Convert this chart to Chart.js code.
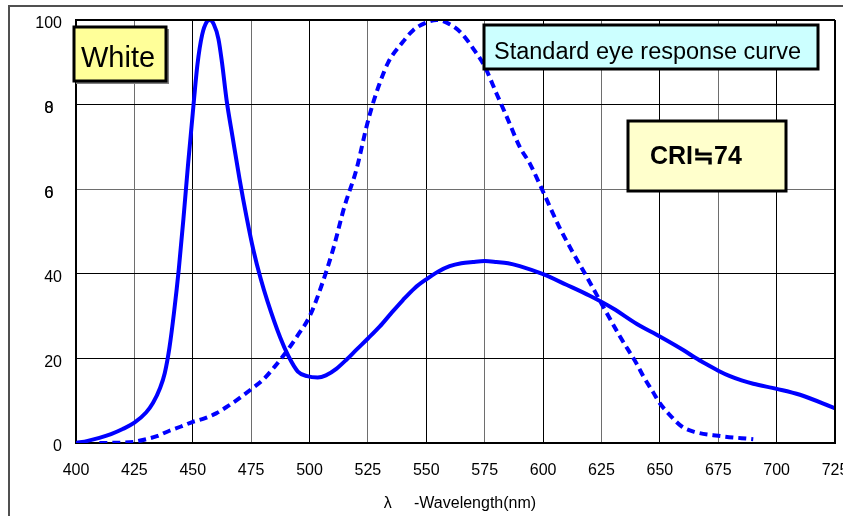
<!DOCTYPE html>
<html><head><meta charset="utf-8">
<script src="https://cdn.jsdelivr.net/npm/chart.js@4/dist/chart.umd.min.js"></script>
<style>html,body{margin:0;padding:0;background:#fff;overflow:hidden}</style>
</head><body>
<canvas id="c" width="843" height="516" style="display:block;width:843px;height:516px"></canvas>
<script>
// ---- data ----
const whiteWavelengths = [400,405,410,415,420,425,430,433,436,438,440,442,444,446,448,450,452,454,456,457.3,459,461,462.5,464.5,467,470,473,476,479,482,487.4,491,495,499,503.5,507,511.6,516,520,525,530,535,540,545,550,555,560,565,570,575,580,585,590,600,610,620,630,640,650,660,665,670,675,680,685,690,700,710,725];
const whiteValues      = [0,0.5,1.2,2.1,3.3,4.8,7.2,9.5,13,16.5,22.5,31,41,53,66,78,89.5,96.5,99.6,100,99,95.5,90,81,72.5,62.5,53.5,45.5,39,33.5,25,20.5,16.9,15.8,15.5,16,17.6,19.8,22,24.7,27.5,30.7,33.8,36.6,38.7,40.5,41.8,42.5,42.8,43,42.8,42.5,41.8,39.9,37.4,34.8,31.8,28.2,25.2,22,20.2,18.6,17.1,15.8,14.8,14,12.8,11.4,8.2];
const eyeWavelengths   = [410,420,425,430,435,440,445,450,455,460,465,470,475,480,485,490,495,500,505,510,515,520,524.5,527,530,533.7,539.5,544.4,550,554.5,560,565,570,575,580,585,590,594.4,600,607,613,618.7,625,633,640,643,647,650,655,659.4,664.4,675,690];
const eyeValues        = [0,0.1,0.3,0.9,1.7,2.9,3.9,5,5.8,7,8.7,10.6,12.7,14.9,18,21.5,25.5,29.9,37,45.6,56,64.5,75,80,85,90,94.5,97.6,99.4,100,99,96.9,93.3,89,82.7,76.4,70,66,59.4,51,44.8,39.3,33,25.1,18.8,15.7,12.1,9.4,6.2,3.9,2.7,1.7,0.9];
const xTickValues = [400,425,450,475,500,525,550,575,600,625,650,675,700,725];
const yTickValues = [0,20,40,60,80,100];
const xTitle = 'λ     -Wavelength(nm)';
const labelWhite = 'White';
const labelEye = 'Standard eye response curve';
const labelCRI = 'CRI≒74';

const FONT = "'Liberation Sans', Arial, sans-serif";

const deco = {
  id: 'deco',
  beforeDraw(chart) {
    const ctx = chart.ctx;
    ctx.save();
    ctx.fillStyle = '#fff';
    ctx.fillRect(0, 0, chart.width, chart.height);
    ctx.strokeStyle = '#505050';
    ctx.lineWidth = 2;
    ctx.beginPath();
    ctx.moveTo(8, 6); ctx.lineTo(chart.width, 6);
    ctx.moveTo(9, 5); ctx.lineTo(9, chart.height);
    ctx.stroke();
    ctx.restore();
  },
  afterDraw(chart) {
    const ctx = chart.ctx;
    const a = chart.chartArea;
    const ys = chart.scales.y;
    ctx.save();
    // plot frame (top and right)
    ctx.strokeStyle = '#000';
    ctx.lineWidth = 2;
    ctx.beginPath();
    ctx.moveTo(a.left, a.top); ctx.lineTo(a.right, a.top);
    ctx.moveTo(a.right, a.top); ctx.lineTo(a.right, a.bottom + 1);
    ctx.stroke();

    // overlapped "80" / "60" labels as in the reference
    ctx.fillStyle = '#000';
    ctx.font = '16px ' + FONT;
    ctx.textAlign = 'left';
    ctx.textBaseline = 'middle';
    [[80, '8'], [60, '6']].forEach(([v, d]) => {
      const py = ys.getPixelForValue(v) + 4;
      ctx.fillText(d, 44.5, py);
      ctx.fillText('0', 44.5, py);
    });

    function box(x, y, w, h, fill, lw, shadow) {
      if (shadow) {
        ctx.fillStyle = '#808080';
        ctx.fillRect(x + 2, y + 2, w + 1, h + 1);
      }
      ctx.fillStyle = fill;
      ctx.fillRect(x, y, w, h);
      ctx.strokeStyle = '#000';
      ctx.lineWidth = lw;
      ctx.strokeRect(x, y, w, h);
    }
    // White label box
    box(74, 27, 92, 54, '#ffff99', 3, true);
    ctx.fillStyle = '#000';
    ctx.font = '29px ' + FONT;
    ctx.textAlign = 'left';
    ctx.textBaseline = 'alphabetic';
    ctx.fillText(labelWhite, 81, 67);

    // Standard eye response box
    box(484, 25, 334, 44, '#ccffff', 3, false);
    ctx.fillStyle = '#000';
    ctx.font = '23.5px ' + FONT;
    ctx.fillText(labelEye, 494, 58.5);

    // CRI box
    box(628, 121, 158, 70, '#ffffcc', 3, false);
    ctx.fillStyle = '#000';
    ctx.font = 'bold 25px ' + FONT;
    ctx.fillText(labelCRI, 650, 164);
    ctx.restore();
  }
};

new Chart(document.getElementById('c'), {
  type: 'line',
  data: {
    datasets: [
      {
        label: 'White',
        data: whiteWavelengths.map((x, i) => ({ x, y: whiteValues[i] })),
        borderColor: '#0000ff',
        borderWidth: 4,
        pointRadius: 0,
        fill: false,
        cubicInterpolationMode: 'monotone'
      },
      {
        label: 'Standard eye response curve',
        data: eyeWavelengths.map((x, i) => ({ x, y: eyeValues[i] })),
        borderColor: '#0000ff',
        borderWidth: 4,
        borderDash: [8, 5],
        borderCapStyle: 'butt',
        pointRadius: 0,
        fill: false,
        cubicInterpolationMode: 'monotone'
      }
    ]
  },
  options: {
    responsive: false,
    animation: false,
    devicePixelRatio: 1,
    layout: { padding: { top: 20, right: 8, left: 0, bottom: 0 } },
    plugins: { legend: { display: false }, tooltip: { enabled: false } },
    scales: {
      x: {
        type: 'linear',
        min: 400, max: 725,
        afterBuildTicks: s => { s.ticks = xTickValues.map(v => ({ value: v })); },
        afterFit: s => { s.height = 73; s.paddingLeft = 0; s.paddingRight = 0; },
        grid: {
          drawTicks: false,
          color: c => (c.index % 2 === 1 ? '#6e6e6e' : '#000'),
          lineWidth: 1
        },
        border: { color: '#000', width: 2 },
        ticks: { padding: 18, color: '#000', font: { family: FONT, size: 16 }, maxRotation: 0, autoSkip: false },
        title: { display: true, text: '\u00a0\u00a0' + xTitle, color: '#000', font: { family: FONT, size: 16 }, padding: { top: 0, bottom: 3 } }
      },
      y: {
        min: 0, max: 100,
        afterBuildTicks: s => { s.ticks = yTickValues.map(v => ({ value: v })); },
        afterFit: s => { s.width = 76; s.paddingTop = 0; s.paddingBottom = 0; },
        grid: {
          drawTicks: false,
          color: c => (c.tick && c.tick.value === 60 ? '#6e6e6e' : '#000'),
          lineWidth: 1
        },
        border: { color: '#000', width: 2 },
        ticks: {
          padding: 14, labelOffset: 4, color: '#000', font: { family: FONT, size: 16 },
          callback: v => (v === 60 || v === 80 ? '' : String(v))
        }
      }
    }
  },
  plugins: [deco]
});
</script>
</body></html>
